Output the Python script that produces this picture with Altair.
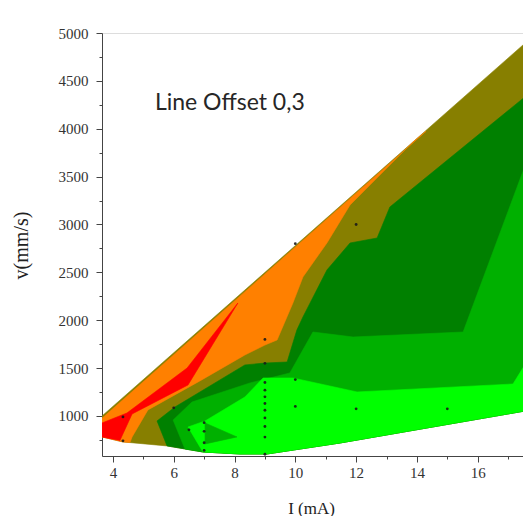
import altair as alt
import pandas as pd

# ---- contour regions, vertices as (I [mA], v [mm/s]) ----
olive_I = [3.64, 17.75, 17.75, 11.47, 9.07, 8.18, 6.96, 5.78, 4.33, 3.64]
olive_v = [1000, 4948, 1063, 718, 603, 603, 624, 687, 729, 781]

orange_I = [3.64, 14.3, 13.87, 12.88, 11.80, 11.04, 10.25, 9.92, 9.40, 9.00, 8.34, 6.86, 5.15, 4.63, 4.56, 4.33, 3.64]
orange_v = [975, 3974, 3862, 3548, 3204, 2807, 2452, 2180, 1794, 1741, 1637, 1366, 1063, 781, 722, 729, 781]

red_I = [3.64, 4.46, 6.44, 8.11, 6.47, 4.63, 4.23, 3.64]
red_v = [927, 1031, 1501, 2180, 1324, 1021, 745, 781]

dkgreen_I = [5.78, 5.45, 6.04, 8.34, 9.00, 9.73, 10.05, 10.25, 11.04, 11.80, 12.69, 13.11, 17.75, 17.75, 11.47, 9.07, 8.18, 6.96]
dkgreen_v = [687, 948, 1094, 1533, 1553, 1564, 1898, 2034, 2525, 2807, 2859, 3183, 4384, 1063, 718, 603, 603, 624]

mdgreen_I = [6.37, 5.98, 6.60, 8.51, 9.82, 10.58, 11.90, 15.52, 17.75, 17.75, 11.47, 9.07, 8.18, 6.96]
mdgreen_v = [655, 958, 1146, 1345, 1449, 1877, 1825, 1877, 3778, 1063, 718, 603, 603, 624]

ltgreen_I = [6.47, 7.03, 8.34, 8.94, 9.92, 12.03, 17.16, 17.75, 17.75, 11.47, 9.07, 8.18, 6.96]
ltgreen_v = [885, 948, 1198, 1397, 1397, 1251, 1334, 1637, 1063, 718, 603, 603, 624]

tri_I = [7.03, 8.08, 7.03]
tri_v = [927, 781, 708]

# ---- measured data points (black dots) ----
dot_I = [4.33, 4.33, 6.0, 6.5, 7.0, 7.0, 7.0, 7.0,
         9, 9, 9, 9, 9, 9, 9, 9, 9, 9, 9,
         10, 10, 10, 12, 12, 15]
dot_v = [990, 740, 1085, 855, 930, 840, 720, 640,
         1800, 1550, 1350, 1270, 1200, 1130, 1060, 980, 890, 780, 600,
         2800, 1380, 1100, 3000, 1075, 1075]

x_ticks = list(range(4, 18))
y_ticks = list(range(750, 5001, 250))

xscale = alt.Scale(domain=[3.64, 17.49], nice=False, zero=False)
yscale = alt.Scale(domain=[582, 5000], nice=False, zero=False)

AX = dict(labelFont="Liberation Serif", labelFontSize=15, labelColor="#333333",
          titleFont="Liberation Serif", titleFontWeight="normal", titleColor="#222222",
          domainColor="#444444", tickColor="#444444", grid=False)

xaxis = alt.Axis(values=x_ticks, format="d", title="I (mA)",
                 labelExpr="datum.value % 2 === 0 ? datum.label : ''",
                 tickSize={"condition": {"test": "datum.value % 2 === 0", "value": 6}, "value": 3},
                 labelPadding=3, titleFontSize=17, titleX=209, titleY=52,
                 titleBaseline="middle", titleAlign="center", **AX)
yaxis = alt.Axis(values=y_ticks, format="d", title="v(mm/s)",
                 labelExpr="datum.value % 500 === 0 ? datum.label : ''",
                 tickSize={"condition": {"test": "datum.value % 500 === 0", "value": 6}, "value": 3},
                 labelPadding=8, titleFontSize=20, titleX=-81, titleY=212,
                 titleBaseline="middle", titleAlign="center", titleAngle=-90, **AX)


def poly(I, v, color):
    df = pd.DataFrame({"I": I + [I[0]], "v": v + [v[0]], "k": list(range(len(I) + 1))})
    return alt.Chart(df).mark_line(fill=color, stroke=color, strokeWidth=0.6,
                                   clip=True, interpolate="linear").encode(
        x=alt.X("I:Q", scale=xscale, axis=xaxis),
        y=alt.Y("v:Q", scale=yscale, axis=yaxis),
        order="k:Q",
    )


layers = [
    poly(olive_I, olive_v, "#877F00"),
    poly(orange_I, orange_v, "#FF8000"),
    poly(red_I, red_v, "#FF0000"),
    poly(dkgreen_I, dkgreen_v, "#008000"),
    poly(mdgreen_I, mdgreen_v, "#00B000"),
    poly(ltgreen_I, ltgreen_v, "#00FF00"),
    poly(tri_I, tri_v, "#00B000"),
]

dots = alt.Chart(pd.DataFrame({"I": dot_I, "v": dot_v})).mark_point(
    filled=True, color="#1a1a1a", size=8, opacity=0.9, clip=True).encode(
    x=alt.X("I:Q", scale=xscale, axis=xaxis),
    y=alt.Y("v:Q", scale=yscale, axis=yaxis),
)

label = alt.Chart(pd.DataFrame({"I": [5.38], "v": [4196], "t": ["Line Offset 0,3"]})).mark_text(
    align="left", baseline="alphabetic", font="Lato", fontSize=23, color="#262626").encode(
    x=alt.X("I:Q", scale=xscale, axis=xaxis),
    y=alt.Y("v:Q", scale=yscale, axis=yaxis),
    text="t:N",
)

chart = alt.layer(*layers, dots, label).properties(
    width=421, height=423,
    autosize=alt.AutoSizeParams(type="none"),
    padding={"left": 94, "top": 25, "right": 0, "bottom": 60},
).configure_view(stroke=None).configure(background="white")

chart.save("out.html", embed_options={"renderer": "svg", "actions": False})
